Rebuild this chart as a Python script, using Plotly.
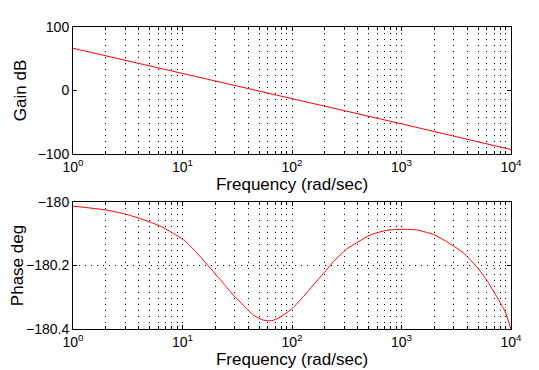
import plotly.graph_objects as go
from plotly.subplots import make_subplots

# Data
gain_freq = [1, 10, 100, 1000, 10000]
gain_db = [66.5, 27.0, -13.4, -52.5, -93.0]

phase_freq = [1, 2, 3, 4.1, 5.05, 6.46, 8.25, 10.2, 12.6, 15.5, 19.1, 23.6,
              29.1, 35.9, 44.3, 54.7, 65.3, 77.7, 100.7, 127, 157, 203, 239,
              316, 409, 516, 732, 1024, 1374, 1950, 2587, 3672, 4862, 6000,
              7410, 8815, 10000]
phase_deg = [-180.013, -180.025, -180.038, -180.052, -180.063, -180.078,
             -180.099, -180.119, -180.149, -180.183, -180.219, -180.256,
             -180.293, -180.325, -180.356, -180.372, -180.374, -180.363,
             -180.335, -180.298, -180.261, -180.217, -180.188, -180.148,
             -180.124, -180.104, -180.089, -180.086, -180.088, -180.102,
             -180.125, -180.160, -180.204, -180.246, -180.298, -180.345,
             -180.400]

x_tickvals = [1, 10, 100, 1000, 10000]
x_ticktext = ["10<sup>0</sup>", "10<sup>1</sup>", "10<sup>2</sup>",
              "10<sup>3</sup>", "10<sup>4</sup>"]
x_minor_vals = [m * d for d in [1, 10, 100, 1000] for m in range(2, 10)]

x_title = "Frequency (rad/sec)"
gain_title = "Gain dB"
phase_title = "Phase deg"
gain_ticks = [-100, 0, 100]
gain_ticktext = ["\u2212100", "0", "100"]
phase_ticks = [-180.4, -180.2, -180]
phase_ticktext = ["\u2212180.4", "\u2212180.2", "\u2212180"]

FONT = "Liberation Sans, Arial, Helvetica, sans-serif"
TICK = dict(family=FONT, size=14, color="black")
TITLE = dict(family=FONT, size=17, color="black")
DOT = "1px,5px"

fig = make_subplots(rows=2, cols=1, vertical_spacing=0.0)

fig.add_trace(go.Scatter(x=gain_freq, y=gain_db, mode="lines",
                         line=dict(color="#ff0000", width=1)), row=1, col=1)
fig.add_trace(go.Scatter(x=phase_freq, y=phase_deg, mode="lines",
                         line=dict(color="#ff0000", width=1, shape="spline",
                                   smoothing=0.5)), row=2, col=1)

fig.update_xaxes(type="log", range=[0, 4], tickmode="array",
                 tickvals=x_tickvals, ticktext=x_ticktext,
                 showline=True, linecolor="black", linewidth=1, mirror="allticks",
                 ticks="inside", ticklen=4, tickcolor="black",
                 showgrid=True, gridcolor="black", gridwidth=1, griddash=DOT,
                 minor=dict(tickmode="array", tickvals=x_minor_vals, showgrid=True,
                            gridcolor="black", griddash=DOT, ticks="inside",
                            ticklen=3, tickcolor="black"),
                 zeroline=False, automargin=False, tickfont=TICK,
                 title=dict(text=x_title, font=TITLE, standoff=0))

fig.update_yaxes(showline=True, linecolor="black", linewidth=1, mirror="allticks",
                 ticks="inside", ticklen=4, tickcolor="black", zeroline=False,
                 automargin=False, tickfont=TICK)
fig.update_yaxes(row=1, col=1, domain=[0.5795, 1.0], range=[-100, 100],
                 tickvals=gain_ticks, ticktext=gain_ticktext, showgrid=False,
                 title=dict(text=gain_title, font=TITLE, standoff=6))
fig.update_yaxes(row=2, col=1, domain=[0.0, 0.4205], range=[-180.4, -180],
                 tickvals=phase_ticks, ticktext=phase_ticktext, showgrid=True,
                 gridcolor="black", gridwidth=1, griddash=DOT,
                 title=dict(text=phase_title, font=TITLE, standoff=6))

fig.update_layout(width=539, height=370, showlegend=False,
                  margin=dict(l=65, r=36, t=19, b=49),
                  paper_bgcolor="white", plot_bgcolor="white")

fig.write_html("out.html")
